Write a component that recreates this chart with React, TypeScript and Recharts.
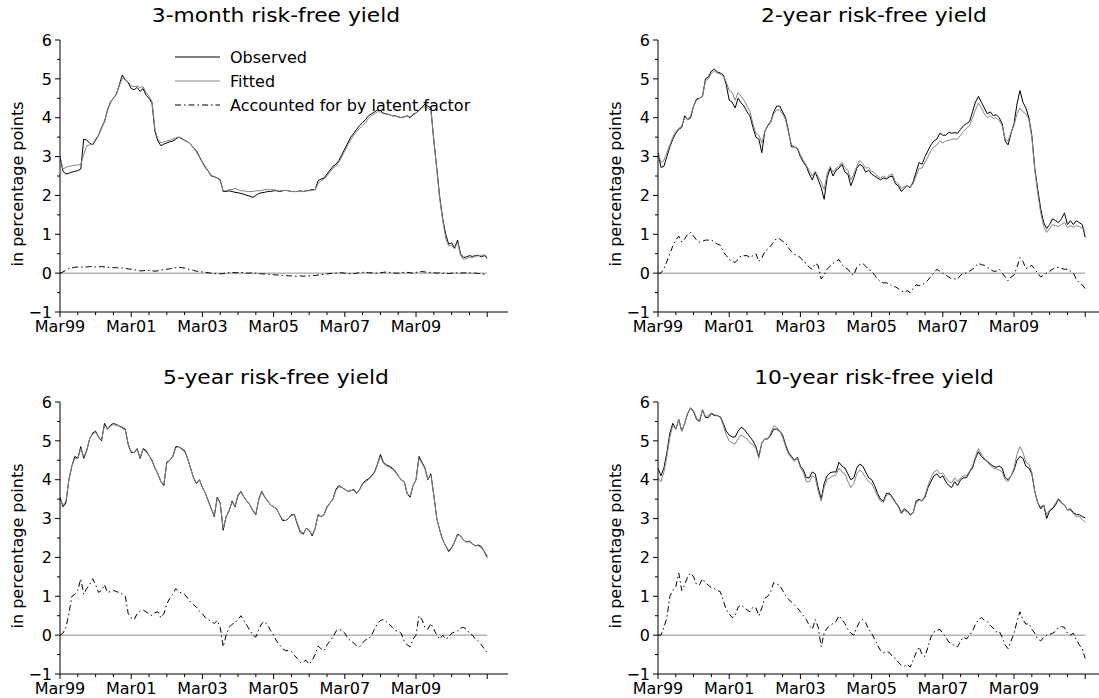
import React from 'react';
import { LineChart, Line, XAxis, YAxis, ReferenceLine } from 'recharts';

const FONT = '"DejaVu Sans", Verdana, sans-serif';
const PANEL_W = 549;
const PANEL_H = 350;

// x is measured in months since March 1999 (0 = Mar99, 144 = Mar11)
const xTickMonths = [0, 6, 12, 18, 24, 30, 36, 42, 48, 54, 60, 66, 72, 78, 84, 90, 96, 102, 108, 114, 120, 126, 132, 138, 144];
const xMajorMonths = [0, 24, 48, 72, 96, 120, 144];
const xMajorLabels = ['Mar99', 'Mar01', 'Mar03', 'Mar05', 'Mar07', 'Mar09', ''];
const yTicks = [-1, -0.5, 0, 0.5, 1, 1.5, 2, 2.5, 3, 3.5, 4, 4.5, 5, 5.5, 6];

const seriesNames = ['Observed', 'Fitted', 'Accounted for by latent factor'];

// 3-month yield
const obs3m = [
  3.00, 2.62, 2.55, 2.57, 2.60, 2.62, 2.64, 2.68, 3.45, 3.42, 3.35, 3.30,
  3.42, 3.55, 3.75, 3.90, 4.20, 4.40, 4.50, 4.60, 4.85, 5.10, 4.98, 4.90,
  4.75, 4.72, 4.78, 4.68, 4.75, 4.58, 4.50, 4.38, 3.65, 3.40, 3.28, 3.32,
  3.35, 3.38, 3.40, 3.45, 3.50, 3.46, 3.42, 3.38, 3.32, 3.22, 3.15, 3.00,
  2.85, 2.72, 2.62, 2.50, 2.48, 2.45, 2.40, 2.10, 2.10, 2.12, 2.10, 2.08,
  2.07, 2.05, 2.03, 2.00, 1.98, 1.95, 2.00, 2.05, 2.07, 2.08, 2.10, 2.10,
  2.12, 2.12, 2.10, 2.12, 2.13, 2.12, 2.10, 2.10, 2.10, 2.12, 2.10, 2.12,
  2.13, 2.15, 2.15, 2.38, 2.42, 2.45, 2.55, 2.65, 2.75, 2.80, 2.90, 3.05,
  3.20, 3.35, 3.50, 3.60, 3.70, 3.80, 3.88, 3.95, 4.05, 4.10, 4.15, 4.20,
  4.18, 4.12, 4.10, 4.08, 4.05, 4.05, 4.02, 4.00, 4.02, 4.05, 4.00, 4.08,
  4.12, 4.20, 4.28, 4.35, 4.30, 4.25, 3.40, 2.70, 1.95, 1.40, 1.00, 0.75,
  0.78, 0.65, 0.85, 0.50, 0.40, 0.42, 0.45, 0.43, 0.45, 0.46, 0.42, 0.45,
  0.38,
];
const fit3m = [
  3.00, 2.68, 2.72, 2.75, 2.76, 2.78, 2.78, 2.80, 3.05, 3.28, 3.30, 3.32,
  3.45, 3.55, 3.72, 3.90, 4.18, 4.38, 4.50, 4.62, 4.82, 5.02, 4.98, 4.92,
  4.82, 4.80, 4.82, 4.78, 4.80, 4.65, 4.55, 4.42, 3.70, 3.45, 3.35, 3.38,
  3.40, 3.42, 3.45, 3.48, 3.50, 3.48, 3.42, 3.38, 3.32, 3.22, 3.12, 2.98,
  2.85, 2.75, 2.62, 2.52, 2.48, 2.45, 2.38, 2.12, 2.12, 2.15, 2.15, 2.18,
  2.15, 2.12, 2.12, 2.10, 2.10, 2.10, 2.12, 2.12, 2.13, 2.15, 2.15, 2.15,
  2.15, 2.13, 2.12, 2.12, 2.13, 2.12, 2.10, 2.10, 2.10, 2.10, 2.10, 2.12,
  2.12, 2.13, 2.15, 2.30, 2.38, 2.42, 2.50, 2.60, 2.70, 2.75, 2.85, 3.00,
  3.15, 3.30, 3.42, 3.55, 3.65, 3.72, 3.80, 3.88, 3.98, 4.05, 4.10, 4.15,
  4.15, 4.10, 4.10, 4.08, 4.05, 4.05, 4.02, 4.00, 4.02, 4.05, 4.02, 4.10,
  4.12, 4.18, 4.25, 4.30, 4.25, 4.18, 3.45, 2.65, 1.90, 1.35, 0.90, 0.70,
  0.72, 0.62, 0.80, 0.45, 0.35, 0.38, 0.42, 0.40, 0.43, 0.45, 0.45, 0.48,
  0.42,
];
const lat3m = [
  0.00, 0.03, 0.08, 0.12, 0.14, 0.15, 0.16, 0.15, 0.17, 0.16, 0.17, 0.17,
  0.16, 0.16, 0.17, 0.16, 0.15, 0.15, 0.14, 0.14, 0.13, 0.13, 0.12, 0.11,
  0.10, 0.09, 0.07, 0.06, 0.06, 0.07, 0.07, 0.06, 0.05, 0.06, 0.08, 0.09,
  0.10, 0.11, 0.13, 0.14, 0.15, 0.14, 0.13, 0.11, 0.09, 0.07, 0.05, 0.04,
  0.03, 0.02, 0.01, 0.00, -0.01, -0.02, -0.02, -0.01, 0.00, 0.01, 0.02, 0.01,
  0.01, 0.02, 0.01, 0.00, 0.00, 0.01, 0.00, -0.01, -0.02, -0.02, -0.03, -0.03,
  -0.04, -0.05, -0.05, -0.06, -0.06, -0.07, -0.07, -0.08, -0.08, -0.07, -0.08, -0.07,
  -0.07, -0.06, -0.06, -0.05, -0.04, -0.03, -0.02, -0.01, 0.00, 0.00, 0.01, 0.01,
  0.00, -0.01, -0.02, -0.01, 0.00, 0.01, 0.02, 0.02, 0.01, 0.01, 0.00, 0.00,
  0.01, 0.02, 0.03, 0.02, 0.01, 0.00, 0.00, 0.01, 0.02, 0.02, 0.01, 0.00,
  0.02, 0.03, 0.04, 0.03, 0.02, 0.02, 0.01, 0.00, 0.01, 0.00, 0.00, -0.01,
  0.00, 0.01, 0.00, 0.00, 0.01, 0.00, 0.01, 0.00, 0.00, -0.01, -0.02, -0.03,
  -0.06,
];

// 2-year yield
const obs2y = [
  3.10, 2.72, 2.75, 3.00, 3.25, 3.45, 3.60, 3.70, 3.75, 4.05, 3.95, 4.00,
  4.30, 4.48, 4.50, 4.55, 5.00, 5.05, 5.20, 5.25, 5.18, 5.15, 5.10, 4.85,
  4.45, 4.40, 4.25, 4.50, 4.38, 4.30, 4.15, 4.05, 3.75, 3.50, 3.45, 3.10,
  3.65, 3.80, 3.90, 4.15, 4.30, 4.30, 4.15, 4.00, 3.65, 3.25, 3.25, 3.20,
  3.00, 2.85, 2.75, 2.55, 2.40, 2.60, 2.40, 2.20, 1.90, 2.45, 2.70, 2.50,
  2.65, 2.70, 2.80, 2.60, 2.55, 2.25, 2.45, 2.70, 2.80, 2.75, 2.60, 2.65,
  2.55, 2.50, 2.45, 2.40, 2.45, 2.42, 2.48, 2.50, 2.30, 2.25, 2.10, 2.18,
  2.25, 2.20, 2.35, 2.60, 2.85, 2.80, 3.00, 3.15, 3.30, 3.40, 3.45, 3.60,
  3.55, 3.55, 3.62, 3.60, 3.62, 3.60, 3.70, 3.80, 3.85, 3.90, 4.15, 4.40,
  4.55, 4.40, 4.25, 4.10, 4.15, 4.05, 4.08, 4.00, 3.85, 3.40, 3.30, 3.60,
  3.85, 4.35, 4.70, 4.40, 4.25, 4.00, 3.55, 2.70, 2.15, 1.65, 1.30, 1.15,
  1.25, 1.40, 1.35, 1.30, 1.40, 1.55, 1.25, 1.35, 1.25, 1.35, 1.30, 1.25,
  0.92,
];
const fit2y = [
  3.10, 2.85, 2.90, 3.10, 3.30, 3.50, 3.65, 3.72, 3.80, 4.00, 3.95, 4.05,
  4.30, 4.45, 4.50, 4.55, 4.95, 5.00, 5.15, 5.20, 5.15, 5.12, 5.08, 4.92,
  4.70, 4.65, 4.45, 4.65, 4.55, 4.45, 4.30, 4.15, 3.85, 3.60, 3.55, 3.35,
  3.65, 3.78, 3.88, 4.10, 4.20, 4.20, 4.10, 3.95, 3.60, 3.30, 3.25, 3.22,
  3.05, 2.90, 2.78, 2.62, 2.50, 2.62, 2.48, 2.35, 2.15, 2.55, 2.75, 2.60,
  2.70, 2.75, 2.85, 2.72, 2.65, 2.40, 2.55, 2.75, 2.90, 2.82, 2.70, 2.72,
  2.62, 2.58, 2.50, 2.45, 2.50, 2.45, 2.52, 2.55, 2.35, 2.30, 2.18, 2.22,
  2.25, 2.22, 2.30, 2.50, 2.70, 2.70, 2.85, 3.00, 3.15, 3.25, 3.30, 3.40,
  3.35, 3.40, 3.42, 3.45, 3.45, 3.45, 3.55, 3.65, 3.72, 3.80, 4.00, 4.20,
  4.38, 4.25, 4.10, 4.00, 4.05, 3.98, 4.00, 3.92, 3.80, 3.45, 3.40, 3.62,
  3.80, 4.10, 4.25, 4.15, 4.10, 3.95, 3.50, 2.65, 2.05, 1.55, 1.20, 1.05,
  1.15, 1.25, 1.22, 1.20, 1.25, 1.30, 1.18, 1.22, 1.18, 1.22, 1.20, 1.15,
  1.10,
];
const lat2y = [
  0.00, 0.00, 0.12, 0.30, 0.50, 0.70, 0.85, 0.95, 0.80, 0.88, 1.00, 1.05,
  0.95, 0.85, 0.80, 0.82, 0.85, 0.85, 0.85, 0.80, 0.75, 0.72, 0.55, 0.45,
  0.35, 0.30, 0.28, 0.35, 0.45, 0.45, 0.45, 0.40, 0.45, 0.50, 0.30, 0.40,
  0.55, 0.62, 0.70, 0.80, 0.90, 0.88, 0.82, 0.78, 0.65, 0.55, 0.48, 0.45,
  0.40, 0.30, 0.25, 0.15, 0.10, 0.25, 0.20, -0.15, -0.05, 0.10, 0.18, 0.25,
  0.30, 0.35, 0.22, 0.15, 0.10, 0.00, -0.05, 0.15, 0.22, 0.25, 0.18, 0.10,
  0.05, -0.05, -0.15, -0.22, -0.25, -0.25, -0.28, -0.35, -0.35, -0.40, -0.45, -0.50,
  -0.45, -0.50, -0.40, -0.30, -0.32, -0.30, -0.25, -0.18, -0.08, 0.00, 0.10, 0.05,
  0.00, -0.05, -0.10, -0.15, -0.15, -0.15, -0.05, 0.00, 0.00, 0.05, 0.10, 0.18,
  0.25, 0.22, 0.20, 0.15, 0.10, 0.05, 0.05, 0.10, 0.00, -0.10, -0.20, -0.10,
  -0.05, 0.15, 0.40, 0.30, 0.12, 0.15, 0.20, 0.10, 0.00, -0.10, -0.05, 0.00,
  0.05, 0.10, 0.15, 0.15, 0.12, 0.10, 0.10, 0.05, 0.00, -0.15, -0.25, -0.30,
  -0.40,
];

// 5-year yield
const obs5y = [
  3.55, 3.30, 3.40, 4.00, 4.35, 4.60, 4.55, 4.85, 4.55, 4.75, 5.05, 5.20,
  5.25, 5.10, 5.00, 5.45, 5.30, 5.40, 5.45, 5.42, 5.38, 5.35, 5.30, 4.90,
  4.70, 4.70, 4.80, 4.55, 4.80, 4.75, 4.62, 4.50, 4.30, 4.15, 3.95, 3.85,
  4.45, 4.50, 4.60, 4.85, 4.85, 4.80, 4.75, 4.55, 4.30, 4.05, 3.90, 4.00,
  3.80, 3.65, 3.45, 3.25, 3.05, 3.55, 3.40, 2.70, 3.05, 3.20, 3.45, 3.30,
  3.60, 3.70, 3.55, 3.45, 3.35, 3.20, 3.10, 3.50, 3.70, 3.55, 3.45, 3.35,
  3.30, 3.25, 3.10, 2.95, 2.95, 3.00, 3.10, 3.10, 2.85, 2.65, 2.60, 2.75,
  2.70, 2.55, 2.75, 3.10, 3.05, 3.10, 3.30, 3.40, 3.50, 3.75, 3.85, 3.80,
  3.75, 3.70, 3.72, 3.75, 3.65, 3.75, 3.90, 3.98, 4.02, 4.10, 4.20, 4.40,
  4.65, 4.45, 4.38, 4.35, 4.30, 4.22, 4.10, 4.00, 3.95, 3.65, 3.55, 3.85,
  4.00, 4.60, 4.45, 4.30, 4.00, 4.15, 3.60, 3.00, 2.70, 2.45, 2.30, 2.15,
  2.25, 2.40, 2.60, 2.55, 2.45, 2.40, 2.42, 2.35, 2.30, 2.32, 2.28, 2.15,
  2.00,
];
const fit5y = [
  3.50, 3.35, 3.45, 4.00, 4.35, 4.55, 4.55, 4.80, 4.60, 4.75, 5.05, 5.18,
  5.22, 5.10, 5.02, 5.40, 5.30, 5.38, 5.42, 5.40, 5.38, 5.32, 5.28, 4.92,
  4.72, 4.70, 4.78, 4.58, 4.78, 4.72, 4.62, 4.48, 4.30, 4.15, 3.95, 3.88,
  4.42, 4.50, 4.58, 4.82, 4.85, 4.78, 4.72, 4.55, 4.30, 4.05, 3.92, 4.00,
  3.80, 3.65, 3.45, 3.25, 3.08, 3.52, 3.40, 2.75, 3.05, 3.22, 3.42, 3.32,
  3.58, 3.68, 3.55, 3.45, 3.35, 3.22, 3.12, 3.48, 3.68, 3.55, 3.45, 3.35,
  3.30, 3.25, 3.10, 2.98, 2.95, 3.00, 3.08, 3.10, 2.88, 2.68, 2.62, 2.75,
  2.70, 2.58, 2.75, 3.08, 3.05, 3.10, 3.28, 3.40, 3.50, 3.72, 3.82, 3.80,
  3.75, 3.70, 3.72, 3.72, 3.65, 3.75, 3.88, 3.95, 4.00, 4.08, 4.18, 4.38,
  4.60, 4.42, 4.36, 4.32, 4.28, 4.20, 4.10, 4.00, 3.95, 3.65, 3.58, 3.85,
  4.00, 4.55, 4.42, 4.28, 4.02, 4.12, 3.60, 3.00, 2.70, 2.45, 2.30, 2.18,
  2.25, 2.40, 2.58, 2.55, 2.45, 2.40, 2.40, 2.35, 2.30, 2.30, 2.25, 2.15,
  2.05,
];
const lat5y = [
  0.00, 0.05, 0.20, 0.55, 1.00, 1.05, 1.15, 1.45, 1.05, 1.20, 1.30, 1.45,
  1.30, 1.10, 1.15, 1.30, 1.10, 1.12, 1.15, 1.12, 1.10, 1.05, 1.00, 0.55,
  0.45, 0.40, 0.55, 0.62, 0.65, 0.60, 0.55, 0.50, 0.58, 0.60, 0.45, 0.55,
  0.80, 0.95, 1.05, 1.20, 1.12, 1.08, 1.05, 0.95, 0.85, 0.78, 0.72, 0.62,
  0.55, 0.45, 0.40, 0.35, 0.30, 0.38, 0.20, -0.30, 0.00, 0.20, 0.28, 0.32,
  0.40, 0.50, 0.38, 0.25, 0.12, 0.00, -0.05, 0.15, 0.30, 0.35, 0.25, 0.12,
  0.00, -0.15, -0.25, -0.35, -0.40, -0.40, -0.42, -0.52, -0.60, -0.70, -0.68, -0.65,
  -0.75, -0.65, -0.50, -0.28, -0.35, -0.40, -0.25, -0.15, -0.05, 0.10, 0.15, 0.12,
  0.05, -0.08, -0.15, -0.20, -0.28, -0.30, -0.20, -0.12, -0.10, 0.00, 0.15, 0.30,
  0.38, 0.40, 0.35, 0.28, 0.20, 0.12, 0.10, 0.05, -0.15, -0.25, -0.30, -0.10,
  0.00, 0.50, 0.40, 0.20, 0.15, 0.30, 0.15, 0.00, -0.10, 0.00, -0.10, -0.05,
  0.05, 0.08, 0.10, 0.18, 0.20, 0.15, 0.05, 0.00, -0.10, -0.15, -0.25, -0.35,
  -0.45,
];

// 10-year yield
const obs10y = [
  4.30, 4.10, 4.30, 4.70, 5.20, 5.45, 5.30, 5.55, 5.25, 5.45, 5.70, 5.85,
  5.75, 5.55, 5.50, 5.80, 5.60, 5.60, 5.70, 5.65, 5.65, 5.62, 5.45, 5.25,
  5.15, 5.10, 5.10, 5.25, 5.35, 5.30, 5.20, 5.10, 5.00, 4.85, 4.60, 4.95,
  5.05, 5.05, 5.15, 5.30, 5.30, 5.25, 5.15, 4.90, 4.70, 4.60, 4.50, 4.58,
  4.35, 4.25, 4.05, 4.05, 4.20, 4.15, 3.80, 3.50, 3.90, 4.10, 4.18, 4.20,
  4.20, 4.45, 4.35, 4.30, 4.15, 4.00, 4.05, 4.30, 4.40, 4.35, 4.20, 4.05,
  4.00, 3.85, 3.65, 3.50, 3.45, 3.65, 3.65, 3.55, 3.42, 3.32, 3.15, 3.25,
  3.20, 3.10, 3.15, 3.45, 3.50, 3.45, 3.55, 3.80, 3.95, 4.10, 4.15, 4.05,
  4.10, 3.95, 3.85, 3.80, 3.95, 3.85, 4.00, 4.05, 4.05, 4.20, 4.30, 4.55,
  4.72, 4.60, 4.52, 4.48, 4.40, 4.35, 4.32, 4.35, 4.30, 4.05, 4.00, 4.10,
  4.25, 4.50, 4.60, 4.55, 4.35, 4.30, 4.15, 3.70, 3.40, 3.25, 3.35, 3.00,
  3.20, 3.25, 3.35, 3.50, 3.40, 3.35, 3.22, 3.25, 3.15, 3.10, 3.10, 3.05,
  3.02,
];
const fit10y = [
  4.05, 3.95, 4.20, 4.60, 5.10, 5.40, 5.30, 5.55, 5.25, 5.45, 5.72, 5.85,
  5.78, 5.58, 5.52, 5.80, 5.62, 5.65, 5.72, 5.68, 5.65, 5.60, 5.40, 5.15,
  5.00, 4.95, 4.92, 5.05, 5.15, 5.10, 5.05, 4.95, 4.90, 4.80, 4.55, 4.95,
  5.05, 5.05, 5.20, 5.38, 5.35, 5.25, 5.10, 4.85, 4.65, 4.55, 4.48, 4.55,
  4.30, 4.18, 3.95, 3.95, 4.10, 4.05, 3.70, 3.45, 3.80, 4.00, 4.05, 4.10,
  4.12, 4.30, 4.20, 4.15, 3.95, 3.80, 3.90, 4.15, 4.25, 4.18, 4.05, 3.95,
  3.90, 3.75, 3.58, 3.45, 3.42, 3.60, 3.62, 3.52, 3.40, 3.30, 3.12, 3.20,
  3.18, 3.08, 3.15, 3.40, 3.48, 3.45, 3.60, 3.85, 4.05, 4.20, 4.25, 4.15,
  4.18, 4.05, 3.95, 3.92, 4.05, 3.95, 4.05, 4.10, 4.10, 4.22, 4.35, 4.60,
  4.80, 4.65, 4.55, 4.45, 4.38, 4.30, 4.28, 4.25, 4.20, 4.00, 3.95, 4.10,
  4.30, 4.65, 4.85, 4.70, 4.45, 4.40, 4.20, 3.70, 3.40, 3.30, 3.35, 3.10,
  3.22, 3.28, 3.40, 3.52, 3.42, 3.35, 3.22, 3.22, 3.12, 3.05, 3.05, 2.98,
  2.90,
];
const lat10y = [
  0.00, 0.00, 0.20, 0.45, 1.00, 1.15, 1.25, 1.60, 1.15, 1.30, 1.50, 1.60,
  1.50, 1.30, 1.30, 1.45, 1.35, 1.28, 1.22, 1.20, 1.15, 1.12, 0.90, 0.65,
  0.55, 0.45, 0.50, 0.72, 0.78, 0.72, 0.65, 0.60, 0.72, 0.70, 0.50, 0.70,
  0.95, 1.00, 1.12, 1.35, 1.32, 1.28, 1.15, 1.02, 0.92, 0.85, 0.78, 0.70,
  0.60, 0.50, 0.40, 0.25, 0.15, 0.40, 0.20, -0.30, 0.05, 0.18, 0.25, 0.30,
  0.35, 0.50, 0.40, 0.30, 0.15, 0.05, 0.00, 0.20, 0.35, 0.40, 0.32, 0.15,
  0.05, -0.10, -0.25, -0.40, -0.45, -0.42, -0.45, -0.55, -0.60, -0.70, -0.78, -0.80,
  -0.75, -0.82, -0.65, -0.45, -0.30, -0.50, -0.55, -0.30, -0.05, 0.08, 0.12, 0.15,
  0.05, -0.05, -0.18, -0.22, -0.28, -0.30, -0.15, -0.05, -0.10, 0.00, 0.10, 0.28,
  0.40, 0.45, 0.38, 0.35, 0.25, 0.18, 0.08, 0.10, -0.05, -0.25, -0.35, -0.15,
  0.05, 0.35, 0.60, 0.40, 0.28, 0.30, 0.15, 0.05, -0.10, -0.15, -0.05, 0.00,
  0.02, 0.05, 0.10, 0.20, 0.22, 0.20, 0.05, 0.00, 0.05, -0.12, -0.25, -0.35,
  -0.60,
];

const OBS_COLOR = '#000000';
const FIT_COLOR = '#858585';
const LAT_DASH = '6 3 1.5 3';

function XTick(props: any) {
  const { x, y, payload } = props;
  const idx = xMajorMonths.indexOf(payload.value);
  const major = idx >= 0;
  const label = major ? xMajorLabels[idx] : '';
  return (
    <g>
      <line x1={x} x2={x} y1={y} y2={y + (major ? 5 : 3)} stroke="#000" strokeWidth={1} />
      {label ? (
        <text x={x} y={y + 19.5} textAnchor="middle" fontSize={16} fontFamily={FONT} fill="#000">
          {label}
        </text>
      ) : null}
    </g>
  );
}

function YTick(props: any) {
  const { x, y, payload } = props;
  const v = payload.value as number;
  const major = Number.isInteger(v);
  const label = v < 0 ? '\u2212' + Math.abs(v) : String(v);
  return (
    <g>
      <line x1={x - (major ? 5 : 3)} x2={x} y1={y} y2={y} stroke="#000" strokeWidth={1} />
      {major ? (
        <text x={x - 8} y={y} dy="0.36em" textAnchor="end" fontSize={16} fontFamily={FONT} fill="#000">
          {label}
        </text>
      ) : null}
    </g>
  );
}

type PanelProps = {
  title: string;
  obs: number[];
  fit: number[];
  lat: number[];
  left: number;
  top: number;
  legend?: boolean;
};

function Panel({ title, obs, fit, lat, left, top, legend }: PanelProps) {
  const rows = obs.map((v, m) => ({ m, obs: v, fit: fit[m], lat: lat[m] }));
  const lastMonth = rows.length - 1;
  return (
    <div style={{ position: 'absolute', left, top, width: PANEL_W, height: PANEL_H }}>
      <LineChart width={PANEL_W} height={PANEL_H} data={rows} margin={{ top: 40, right: 41, bottom: 8, left: 0 }}>
        <XAxis
          type="number"
          dataKey="m"
          domain={[0, 151]}
          ticks={xTickMonths}
          interval={0}
          tickSize={0}
          tickMargin={0}
          tickLine={false}
          tick={(p: any) => <XTick {...p} />}
          axisLine={{ stroke: '#000', strokeWidth: 1 }}
          height={30}
          allowDataOverflow
        />
        <YAxis
          type="number"
          domain={[-1, 6]}
          ticks={yTicks}
          interval={0}
          tickSize={0}
          tickMargin={0}
          tickLine={false}
          tick={(p: any) => <YTick {...p} />}
          axisLine={{ stroke: '#000', strokeWidth: 1 }}
          width={60}
          allowDataOverflow
        />
        <ReferenceLine
          segment={[{ x: 0, y: 0 }, { x: lastMonth, y: 0 }]}
          stroke="#8f8f8f"
          strokeWidth={1}
          ifOverflow="visible"
        />
        <Line
          type="linear"
          dataKey="lat"
          name={seriesNames[2]}
          stroke={OBS_COLOR}
          strokeWidth={1}
          strokeDasharray={LAT_DASH}
          dot={false}
          activeDot={false}
          isAnimationActive={false}
        />
        <Line
          type="linear"
          dataKey="obs"
          name={seriesNames[0]}
          stroke={OBS_COLOR}
          strokeWidth={1}
          dot={false}
          activeDot={false}
          isAnimationActive={false}
        />
        <Line
          type="linear"
          dataKey="fit"
          name={seriesNames[1]}
          stroke={FIT_COLOR}
          strokeWidth={1}
          dot={false}
          activeDot={false}
          isAnimationActive={false}
        />
      </LineChart>
      <svg
        width={PANEL_W}
        height={PANEL_H}
        style={{ position: 'absolute', left: 0, top: 0, pointerEvents: 'none', overflow: 'visible' }}
      >
        <text
          transform="translate(276,22) scale(1.09,1)"
          textAnchor="middle"
          fontSize={20}
          fontFamily={FONT}
          fill="#000"
        >
          {title}
        </text>
        <text
          transform="translate(17.5,184) rotate(-90)"
          textAnchor="middle"
          dominantBaseline="central"
          fontSize={16}
          fontFamily={FONT}
          fill="#000"
        >
          in percentage points
        </text>
        {legend ? (
          <g>
            {seriesNames.map((name, i) => {
              const ly = 57 + i * 24;
              return (
                <g key={name}>
                  <line
                    x1={175}
                    x2={220}
                    y1={ly}
                    y2={ly}
                    stroke={i === 1 ? FIT_COLOR : OBS_COLOR}
                    strokeWidth={1}
                    strokeDasharray={i === 2 ? LAT_DASH : undefined}
                  />
                  <text x={230} y={ly + 5.5} fontSize={16} fontFamily={FONT} fill="#000">
                    {name}
                  </text>
                </g>
              );
            })}
          </g>
        ) : null}
      </svg>
    </div>
  );
}

export default function App() {
  return (
    <div
      style={{
        position: 'absolute',
        left: 0,
        top: 0,
        width: 1099,
        height: 698,
        overflow: 'hidden',
        background: '#fff',
      }}
    >
      <Panel title="3-month risk-free yield" obs={obs3m} fit={fit3m} lat={lat3m} left={0} top={0} legend />
      <Panel title="2-year risk-free yield" obs={obs2y} fit={fit2y} lat={lat2y} left={598} top={0} />
      <Panel title="5-year risk-free yield" obs={obs5y} fit={fit5y} lat={lat5y} left={0} top={362} />
      <Panel title="10-year risk-free yield" obs={obs10y} fit={fit10y} lat={lat10y} left={598} top={362} />
    </div>
  );
}
